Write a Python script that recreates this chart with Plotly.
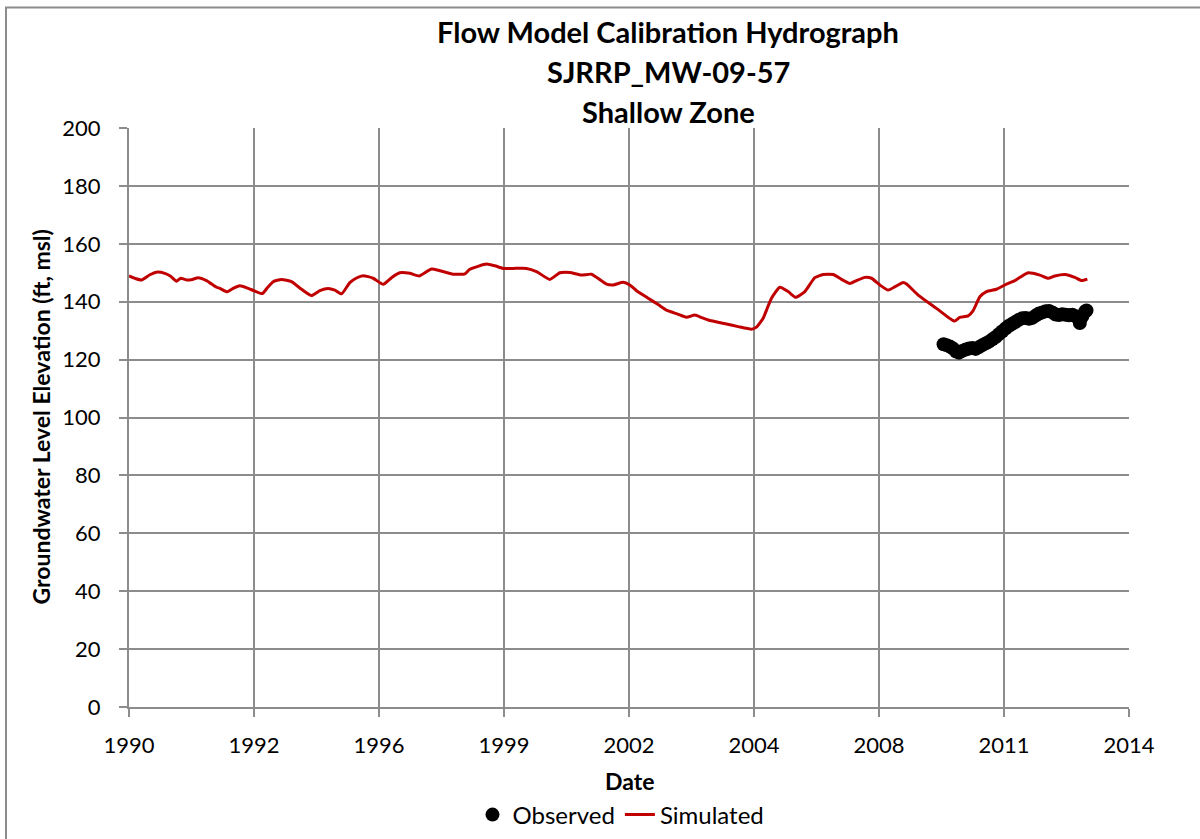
import plotly.graph_objects as go

# ---- data (decimal years on an evenly spaced date axis) ----
sim_x = [1990.00, 1990.15, 1990.30, 1990.50, 1990.66, 1990.86, 1991.00, 1991.14, 1991.24, 1991.38,
         1991.52, 1991.66, 1991.86, 1992.10, 1992.18, 1992.36, 1992.50, 1992.66, 1992.86, 1993.00,
         1993.20, 1993.33, 1993.46, 1993.66, 1993.90, 1994.14, 1994.38, 1994.58, 1994.78, 1994.94,
         1995.10, 1995.30, 1995.46, 1995.62, 1995.86, 1996.10, 1996.30, 1996.50, 1996.74, 1996.97,
         1997.26, 1997.46, 1997.78, 1998.06, 1998.18, 1998.58, 1998.78, 1998.98, 1999.22, 1999.54,
         1999.78, 2000.10, 2000.34, 2000.58, 2000.86, 2001.10, 2001.46, 2001.62, 2001.86, 2002.02,
         2002.18, 2002.46, 2002.70, 2002.90, 2003.15, 2003.38, 2003.58, 2003.75, 2003.90, 2004.34,
         2004.62, 2004.94, 2005.06, 2005.22, 2005.32, 2005.42, 2005.62, 2005.82, 2006.00, 2006.22,
         2006.46, 2006.66, 2006.90, 2007.10, 2007.30, 2007.46, 2007.66, 2007.82, 2008.02, 2008.22,
         2008.40, 2008.58, 2008.66, 2008.94, 2009.38, 2009.81, 2009.94, 2010.14, 2010.26, 2010.42,
         2010.58, 2010.82, 2011.06, 2011.26, 2011.58, 2011.86, 2012.06, 2012.22, 2012.46, 2012.70,
         2012.86, 2013.00]
sim_y = [148.9, 148.0, 147.5, 149.3, 150.2, 149.8, 148.8, 147.1, 148.1, 147.5,
         147.7, 148.3, 147.3, 145.0, 144.6, 143.4, 144.6, 145.5, 144.6, 143.8,
         142.8, 145.0, 146.9, 147.7, 146.9, 144.3, 142.1, 143.8, 144.6, 144.0,
         142.7, 146.6, 148.2, 149.0, 148.1, 146.0, 148.3, 150.0, 149.8, 148.9,
         151.3, 150.7, 149.5, 149.6, 151.2, 153.0, 152.4, 151.5, 151.5, 151.5,
         150.4, 147.7, 150.0, 150.1, 149.2, 149.5, 146.1, 145.8, 146.7, 145.8,
         143.8, 141.2, 139.0, 137.1, 135.8, 134.6, 135.4, 134.5, 133.7, 132.3,
         131.4, 130.5, 131.2, 134.3, 137.8, 141.2, 145.0, 143.5, 141.5, 143.5,
         148.3, 149.4, 149.4, 147.7, 146.3, 147.3, 148.4, 148.1, 145.8, 144.0,
         145.3, 146.6, 146.1, 142.3, 137.7, 133.3, 134.6, 135.1, 136.9, 141.7,
         143.5, 144.3, 146.1, 147.3, 150.0, 149.2, 148.1, 148.9, 149.4, 148.4,
         147.3, 147.8]

obs_x = [2009.55, 2009.62, 2009.70, 2009.78, 2009.85, 2009.92, 2010.00, 2010.08, 2010.16, 2010.24,
         2010.32, 2010.40, 2010.48, 2010.56, 2010.64, 2010.72, 2010.80, 2010.88, 2010.96, 2011.04,
         2011.12, 2011.20, 2011.28, 2011.36, 2011.44, 2011.52, 2011.60, 2011.68, 2011.76, 2011.84,
         2011.92, 2012.00, 2012.08, 2012.16, 2012.24, 2012.32, 2012.40, 2012.48, 2012.56, 2012.64,
         2012.72, 2012.78, 2012.82, 2012.88, 2012.95, 2012.98]
obs_y = [125.3, 125.0, 124.5, 123.8, 122.8, 122.4, 123.0, 123.5, 123.8, 124.0,
         123.7, 124.3, 125.0, 125.6, 126.2, 127.0, 127.8, 128.8, 129.8, 130.8,
         131.7, 132.4, 133.1, 133.8, 134.3, 134.4, 134.1, 134.4, 135.2, 135.9,
         136.3, 136.7, 136.8, 136.3, 135.6, 135.4, 135.7, 135.5, 135.3, 135.5,
         135.0, 134.6, 132.6, 135.0, 136.6, 137.0]

x_tickvals = [1990, 1993, 1996, 1999, 2002, 2005, 2008, 2011, 2014]
x_ticktext = ["1990", "1992", "1996", "1999", "2002", "2004", "2008", "2011", "2014"]

FONT = "Lato"
GRID = "#8c8c8c"

fig = go.Figure()
fig.add_trace(go.Scatter(x=obs_x, y=obs_y, mode="markers", name="Observed",
                         marker=dict(color="black", size=14, line=dict(width=0))))
fig.add_trace(go.Scatter(x=sim_x, y=sim_y, mode="lines", name="Simulated",
                         line=dict(color="#C00000", width=3, shape="spline", smoothing=0.5)))

titles = ["Flow Model Calibration Hydrograph", "SJRRP_MW-09-57", "Shallow Zone"]
ys = [1.166, 1.097, 1.028]
for t, yy in zip(titles, ys):
    fig.add_annotation(text=f"<b>{t}</b>", x=0.539, y=yy, xref="paper", yref="paper",
                       showarrow=False, font=dict(family=FONT, size=29, color="black"),
                       xanchor="center", yanchor="middle")

fig.add_annotation(text="<b>Groundwater Level Elevation (ft, msl)</b>", x=-0.089, y=0.5,
                   xref="paper", yref="paper", showarrow=False, textangle=-90,
                   font=dict(family=FONT, size=23, color="black"),
                   xanchor="center", yanchor="middle")
fig.add_annotation(text="<b>Date</b>", x=0.5, y=-0.128, xref="paper", yref="paper",
                   showarrow=False, font=dict(family=FONT, size=23, color="black"),
                   xanchor="center", yanchor="middle")

# outer chart border (left and top visible)
fig.add_shape(type="rect", xref="paper", yref="paper",
              x0=-0.123, x1=1.10, y0=-0.3, y1=1.208,
              line=dict(color="#8c8c8c", width=2), fillcolor="rgba(0,0,0,0)", layer="below")

fig.update_layout(
    width=1200, height=839,
    margin=dict(l=129, r=71, t=128, b=132),
    paper_bgcolor="white", plot_bgcolor="white",
    font=dict(family=FONT, size=22, color="black"),
    showlegend=True,
    legend=dict(orientation="h", xref="container", yref="container",
                x=0.5175, y=(839 - 815) / 839, xanchor="center", yanchor="middle",
                font=dict(family=FONT, size=24, color="black"), bgcolor="rgba(0,0,0,0)",
                itemwidth=30),
    xaxis=dict(range=[1990, 2014], tickmode="array", tickvals=x_tickvals, ticktext=x_ticktext,
               showgrid=True, gridcolor=GRID, gridwidth=2, zeroline=False,
               ticks="outside", ticklen=8, tickwidth=2, tickcolor=GRID,
               showline=True, linecolor=GRID, linewidth=2, ticklabelstandoff=10),
    yaxis=dict(range=[0, 200], tickmode="linear", tick0=0, dtick=20,
               showgrid=True, gridcolor=GRID, gridwidth=2, zeroline=False,
               ticks="outside", ticklen=8, tickwidth=2, tickcolor=GRID,
               showline=True, linecolor=GRID, linewidth=2, ticklabelstandoff=14),
)

fig.write_html("out.html", config={"displayModeBar": False},
               post_script="document.body.style.margin='0px';")
